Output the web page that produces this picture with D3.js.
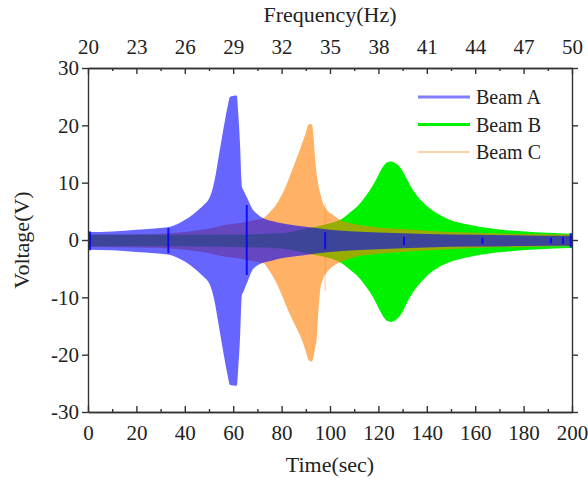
<!DOCTYPE html>
<html>
<head>
<meta charset="utf-8">
<script src="https://cdn.jsdelivr.net/npm/d3@7"></script>
<style>
  html, body { margin: 0; padding: 0; background: #fff; }
  svg { display: block; }
  text { font-family: "Liberation Serif", "Times New Roman", serif; fill: #222; }
</style>
</head>
<body>
<svg id="chart" width="588" height="486"></svg>
<script>
// ---------------- DATA ----------------
const timeTicks = [0, 20, 40, 60, 80, 100, 120, 140, 160, 180, 200];
const timeMinor = [10, 30, 50, 70, 90, 110, 130, 150, 170, 190];
const freqTicks = [20, 23, 26, 29, 32, 35, 38, 41, 44, 47, 50];
const freqMinor = [21.5, 24.5, 27.5, 30.5, 33.5, 36.5, 39.5, 42.5, 45.5, 48.5];
const voltTicks = [-30, -20, -10, 0, 10, 20, 30];

const seriesNames = ["Beam A", "Beam B", "Beam C"];

// Beam A envelope (time s, upper V, lower V)
const timeA  = [0, 10, 20, 30, 34, 38, 42, 46, 48, 50, 51.2, 52.5, 53.7, 55.2, 56.6, 57.8, 58.7, 61.5, 62.1, 62.9, 63.4, 63.6, 64, 65.7, 67.8, 69.8, 72, 76, 80, 90, 100, 120, 140, 160, 180, 200];
const upperA = [1.4, 1.5, 1.8, 2.1, 2.3, 3.0, 4.0, 5.4, 6.2, 7.2, 8.5, 10.8, 13.8, 17.5, 20.9, 23.5, 25.0, 25.2, 22, 16, 10.5, 9.3, 8.9, 7.4, 5.5, 4.6, 3.9, 3.3, 2.9, 2.3, 1.8, 1.3, 1.05, 0.9, 0.8, 0.75];
const lowerA = [-1.7, -1.8, -2.1, -2.4, -2.6, -3.3, -4.3, -5.7, -6.5, -7.5, -8.8, -11.1, -14.1, -17.8, -21.2, -23.8, -25.3, -25.4, -22.3, -16.3, -10.6, -9.6, -9.2, -7.5, -5.3, -4.5, -4.0, -3.6, -3.2, -2.6, -2.1, -1.6, -1.3, -1.15, -1.05, -1.0];

// Beam B envelope
const timeB  = [0, 0.6, 1.2, 20, 40, 60, 80, 90, 95, 100, 105, 108, 111.6, 115, 117.8, 120, 121.5, 123.5, 125.2, 127, 128.3, 130, 131.5, 133, 135.5, 138.4, 141, 144, 148, 158, 171, 185, 200];
const upperB = [2.8, 1.2, 0.9, 0.9, 0.9, 0.95, 1.2, 2.0, 2.4, 2.9, 3.7, 4.7, 6.0, 7.8, 9.6, 11.3, 12.5, 13.5, 13.7, 13.4, 13.0, 12.0, 10.8, 9.6, 8.0, 6.6, 5.6, 4.7, 3.8, 2.6, 1.8, 1.35, 1.1];
const lowerB = [-2.8, -1.4, -1.1, -1.1, -1.1, -1.2, -1.5, -2.3, -2.7, -3.2, -4.1, -5.1, -6.4, -8.2, -10.0, -11.8, -13.0, -14.1, -14.3, -14.0, -13.5, -12.5, -11.2, -10.0, -8.4, -7.0, -5.9, -5.0, -4.1, -2.9, -2.1, -1.65, -1.4];

// Beam C envelope
const timeC  = [0, 20, 30, 40, 50, 55, 62, 68, 72.3, 75, 77.5, 80, 82, 84, 86, 88, 89.7, 91.3, 92.5, 93.2, 93.8, 94.5, 95.2, 96, 97.1, 98.8, 101.2, 104.1, 110, 120, 130, 145, 160, 180, 200];
const upperC = [0.95, 1.0, 1.1, 1.4, 2.0, 2.5, 2.9, 3.4, 3.8, 4.8, 6.0, 7.8, 9.6, 11.8, 14.0, 16.3, 18.3, 20.2, 20.2, 18.0, 14.5, 11.5, 9.6, 8.1, 6.4, 5.2, 4.4, 3.5, 2.8, 2.2, 1.9, 1.5, 1.25, 1.05, 0.95];
const lowerC = [-1.2, -1.3, -1.4, -1.7, -2.3, -2.8, -3.2, -3.7, -4.0, -5.4, -7.2, -9.5, -11.6, -13.5, -15.2, -17.0, -19.0, -21.0, -21.2, -20.3, -19.0, -17.2, -12.5, -8.6, -6.8, -5.6, -4.6, -3.9, -3.0, -2.4, -2.1, -1.7, -1.4, -1.2, -1.1];

// narrow dark spikes visible in Beam A signal
const spikeT  = [0.8, 33.2, 65.6, 98, 130.6, 163, 191.3, 196.3, 199.5];
const spikeHi = [1.5, 2.1, 6.1, 1.4, 0.6, 0.4, 0.4, 0.5, 1.2];
const spikeLo = [-1.8, -2.3, -6.1, -1.6, -0.9, -0.7, -0.6, -0.7, -1.3];
// faint spike in Beam C signal
const spikeCT  = [98];
const spikeCHi = [6.5];
const spikeCLo = [-9];

// ---------------- DRAWING ----------------
const svg = d3.select("#chart");
const L = 88, R = 572, T = 68, B = 412;

const x = d3.scaleLinear().domain([0, 200]).range([L, R]);
const xTop = d3.scaleLinear().domain([20, 50]).range([L, R]);
const y = d3.scaleLinear().domain([-30, 30]).range([B, T]);

svg.append("defs").append("clipPath").attr("id", "clip")
  .append("rect").attr("x", L).attr("y", T).attr("width", R - L).attr("height", B - T);

const plot = svg.append("g").attr("clip-path", "url(#clip)");

function env(times, up, lo) {
  return times.map((t, i) => ({ t: t, u: up[i], l: lo[i] }));
}
const area = d3.area()
  .x(d => x(d.t)).y0(d => y(d.l)).y1(d => y(d.u))
  .curve(d3.curveMonotoneX);

const colA = "#0000ff", colB = "#00f200", colC = "#ff7f00";

plot.append("path").datum(env(timeB, upperB, lowerB))
  .attr("d", area).attr("fill", colB).attr("fill-opacity", 1);
plot.append("path").datum(env(timeC, upperC, lowerC))
  .attr("d", area).attr("fill", colC).attr("fill-opacity", 0.6);
plot.selectAll("line.spc").data(spikeCT).enter().append("line")
  .attr("x1", d => x(d)).attr("x2", d => x(d))
  .attr("y1", (d, i) => y(spikeCHi[i])).attr("y2", (d, i) => y(spikeCLo[i]))
  .attr("stroke", colC).attr("stroke-width", 1.2).attr("stroke-opacity", 0.35);
plot.append("path").datum(env(timeA, upperA, lowerA))
  .attr("d", area).attr("fill", colA).attr("fill-opacity", 0.6);
plot.selectAll("line.sp").data(spikeT).enter().append("line")
  .attr("x1", d => x(d)).attr("x2", d => x(d))
  .attr("y1", (d, i) => y(spikeHi[i])).attr("y2", (d, i) => y(spikeLo[i]))
  .attr("stroke", colA).attr("stroke-width", 2).attr("stroke-opacity", 0.85);

// ---------------- AXES ----------------
const FS = 21;
const fmt = d => String(d);
function styleAxis(g) {
  g.selectAll("path, line").attr("stroke", "#333").attr("stroke-width", 1.4);
  g.selectAll("text").attr("font-size", FS).attr("font-family", "Liberation Serif, serif").attr("fill", "#222");
}

// bottom
svg.append("g").attr("transform", `translate(0,${B})`)
  .call(d3.axisBottom(x).tickValues(timeTicks).tickFormat(fmt).tickSizeInner(-6).tickSizeOuter(0).tickPadding(13))
  .call(styleAxis);
svg.append("g").attr("transform", `translate(0,${B})`)
  .call(d3.axisBottom(x).tickValues(timeMinor).tickSizeInner(-3).tickSizeOuter(0).tickFormat(""))
  .call(styleAxis);
// top
svg.append("g").attr("transform", `translate(0,${T})`)
  .call(d3.axisTop(xTop).tickValues(freqTicks).tickFormat(fmt).tickSizeInner(-6).tickSizeOuter(0).tickPadding(14))
  .call(styleAxis);
svg.append("g").attr("transform", `translate(0,${T})`)
  .call(d3.axisTop(xTop).tickValues(freqMinor).tickSizeInner(-3).tickSizeOuter(0).tickFormat(""))
  .call(styleAxis);
// left
svg.append("g").attr("transform", `translate(${L},0)`)
  .call(d3.axisLeft(y).tickValues(voltTicks).tickFormat(fmt).tickSizeInner(6).tickSizeOuter(0).tickPadding(3))
  .call(styleAxis);
// right
svg.append("g").attr("transform", `translate(${R},0)`)
  .call(d3.axisRight(y).tickValues(voltTicks).tickSizeInner(6).tickSizeOuter(0).tickFormat(""))
  .call(styleAxis);

// titles
svg.append("text").attr("x", (L + R) / 2).attr("y", 22).attr("text-anchor", "middle")
  .attr("font-size", 22).text("Frequency(Hz)");
svg.append("text").attr("x", (L + R) / 2).attr("y", 472).attr("text-anchor", "middle")
  .attr("font-size", 22).text("Time(sec)");
svg.append("text").attr("transform", `translate(29,${(T + B) / 2}) rotate(-90)`)
  .attr("text-anchor", "middle").attr("font-size", 22).text("Voltage(V)");

// ---------------- LEGEND ----------------
const legColors = [colA, colB, colC];
const legOpac = [0.5, 1, 0.35];
const legWidth = [3, 3, 2];
const leg = svg.append("g").attr("transform", "translate(418,97)");
seriesNames.forEach((name, i) => {
  const g = leg.append("g").attr("transform", `translate(0,${i * 27.5})`);
  g.append("line").attr("x1", 0).attr("x2", 52).attr("y1", 0).attr("y2", 0)
    .attr("stroke", legColors[i]).attr("stroke-opacity", legOpac[i]).attr("stroke-width", legWidth[i]);
  g.append("text").attr("x", 58).attr("y", 7).attr("font-size", 20).text(name);
});
</script>
</body>
</html>
